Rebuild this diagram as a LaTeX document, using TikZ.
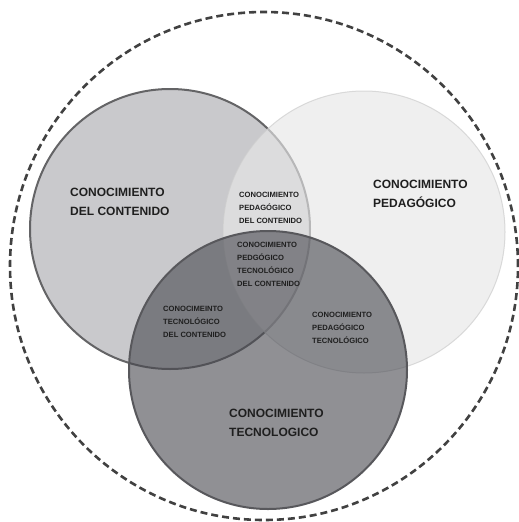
\documentclass[tikz,border=0pt]{standalone}
\usepackage{fontspec}
\setmainfont{Liberation Sans}
\begin{document}
\begin{tikzpicture}[x=1pt,y=-1pt,
  biglabel/.style={anchor=west,align=left,inner sep=0pt,text=black!88,font=\bfseries\fontsize{12}{19}\selectfont},
  smalllabel/.style={anchor=west,align=left,inner sep=0pt,text=black!88,font=\bfseries\fontsize{7.6}{13}\selectfont}]
\definecolor{contfill}{RGB}{201,201,204}
\definecolor{contedge}{RGB}{100,100,102}
\definecolor{pedfill}{RGB}{231,231,231}
\definecolor{pededge}{RGB}{205,205,205}
\definecolor{tecfill}{RGB}{70,71,78}
\definecolor{tecedge}{RGB}{88,88,92}
\definecolor{outeredge}{RGB}{65,65,65}
\useasboundingbox (0,0) rectangle (519,522);
\fill[white] (0,0) rectangle (519,522);
% outer dashed circle
\node[circle,draw=outeredge,line width=2.6pt,dash pattern=on 7pt off 4pt,minimum size=508pt,inner sep=0pt] (outer) at (264,266) {};
% content circle
\node[circle,fill=contfill,draw=contedge,line width=2pt,minimum size=280pt,inner sep=0pt] (cont) at (170,229) {};
% pedagogical circle
\node[circle,fill=pedfill,fill opacity=0.64,draw=pededge,draw opacity=0.7,line width=1pt,minimum size=282pt,inner sep=0pt] (ped) at (364,232) {};
% technological circle
\node[circle,fill=tecfill,fill opacity=0.6,minimum size=278pt,inner sep=0pt] (tec) at (268,370) {};
\node[circle,draw=tecedge,line width=2pt,minimum size=278pt,inner sep=0pt] (tecb) at (268,370) {};
% labels
\node[biglabel] (lcont) at (70,201.5) {CONOCIMIENTO\\DEL CONTENIDO};
\node[biglabel] (lped) at (373,193.5) {CONOCIMIENTO\\PEDAGÓGICO};
\node[biglabel] (ltec) at (229,422.5) {CONOCIMIENTO\\TECNOLOGICO};
\node[smalllabel] (lpck) at (239,208) {CONOCIMIENTO\\PEDAGÓGICO\\DEL CONTENIDO};
\node[smalllabel] (ltpck) at (237,264.5) {CONOCIMIENTO\\PEDGÓGICO\\TECNOLÓGICO\\DEL CONTENIDO};
\node[smalllabel] (ltck) at (163,322) {CONOCIMEINTO\\TECNOLÓGICO\\DEL CONTENIDO};
\node[smalllabel] (ltpk) at (312,328) {CONOCIMIENTO\\PEDAGÓGICO\\TECNOLÓGICO};
\end{tikzpicture}
\end{document}
